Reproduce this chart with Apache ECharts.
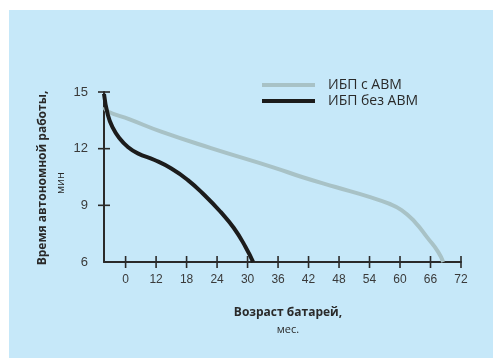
<!DOCTYPE html>
<html><head><meta charset="utf-8">
<script src="https://cdn.jsdelivr.net/npm/echarts@6/dist/echarts.min.js"></script>
<style>html,body{margin:0;padding:0;background:#fff}#c{width:493px;height:358px}</style>
</head><body><div id="c"></div>
<script>
// x positions on the axis scale (label "0" sits at position 6)
const xTickValues = [6, 12, 18, 24, 30, 36, 42, 48, 54, 60, 66, 72];
const xTickLabels = ['0', '12', '18', '24', '30', '36', '42', '48', '54', '60', '66', '72'];
const yTickValues = [9, 12, 15];
const seriesNames = ['ИБП с АВМ', 'ИБП без АВМ'];
const withAVM = [[1.75,14.2],[2.5,13.97],[6.8,13.55],[13,12.9],[22.8,12.03],[35.2,11.0],[40.7,10.5],[47.3,9.97],[53.8,9.46],[57.7,9.1],[60.3,8.75],[62.9,8.13],[65.5,7.25],[67.5,6.54],[68.5,6.0]];
const withoutAVM = [[1.75,14.9],[2.5,13.8],[3.5,13.1],[4.8,12.55],[6.4,12.1],[8.4,11.75],[11.7,11.4],[15,10.95],[18.2,10.35],[21.5,9.55],[24.7,8.65],[27.3,7.8],[29.6,6.8],[31.1,6.0]];

const axisColor = '#2a2a2a';
const xMin = 1.75, xMax = 72, yMin = 6, yMax = 15;
const chart = echarts.init(document.getElementById('c'));
function crossTicks(data, horizontal) {
  return {
    type: 'custom', silent: true, clip: false, z: 5, legendHoverLink: false,
    data: data,
    renderItem: function (params, api) {
      const p = api.coord([api.value(0), api.value(1)]);
      const shape = horizontal
        ? { x1: p[0] - 6, y1: p[1], x2: p[0] + 6, y2: p[1] }
        : { x1: p[0], y1: p[1] - 6, x2: p[0], y2: p[1] + 6 };
      return { type: 'line', shape: shape, style: { stroke: axisColor, lineWidth: 1.6 } };
    }
  };
}
chart.setOption({
  animation: false,
  graphic: [
    { type: 'rect', z: -10, shape: { x: 9, y: 10, width: 484, height: 348 }, style: { fill: '#c6e8f9' } },
    { type: 'text', x: 37, y: 178, rotation: Math.PI / 2, style: { text: 'Время автономной работы,', font: 'bold 12px "Open Sans"', fill: '#2a2a2a', align: 'center', verticalAlign: 'top' } },
    { type: 'text', x: 55, y: 183, rotation: Math.PI / 2, style: { text: 'мин', font: '11px "Open Sans"', fill: '#2a2a2a', align: 'center', verticalAlign: 'top' } },
    { type: 'text', x: 288, y: 313, style: { text: 'Возраст батарей,', font: 'bold 12px "Open Sans"', fill: '#2a2a2a', align: 'center', verticalAlign: 'middle' } },
    { type: 'text', x: 288, y: 330, style: { text: 'мес.', font: '11px "Open Sans"', fill: '#2a2a2a', align: 'center', verticalAlign: 'middle' } }
  ],
  grid: { left: 104, right: 32, top: 92, bottom: 96 },
  legend: {
    orient: 'vertical', left: 257, top: 73, itemWidth: 53, itemHeight: 4, itemGap: 2, icon: 'rect',
    textStyle: { fontFamily: 'Open Sans', fontSize: 14, color: '#2a2a2a', padding: [0, 0, 0, 8] },
    data: seriesNames
  },
  xAxis: {
    type: 'value', min: xMin, max: xMax,
    axisLine: { show: true, onZero: false, lineStyle: { color: axisColor, width: 2 } },
    axisTick: { show: false },
    axisLabel: { show: true, customValues: xTickValues, margin: 12, color: '#3a3a3a', fontSize: 12, fontFamily: 'Liberation Sans',
      formatter: v => xTickLabels[xTickValues.indexOf(v)] },
    splitLine: { show: false }
  },
  yAxis: {
    type: 'value', min: yMin, max: yMax, interval: 3,
    axisLine: { show: true, onZero: false, lineStyle: { color: axisColor, width: 2 } },
    axisTick: { show: false },
    axisLabel: { show: true, margin: 16, color: '#3a3a3a', fontSize: 13, fontFamily: 'Liberation Sans' },
    splitLine: { show: false }
  },
  series: [
    { name: seriesNames[0], type: 'line', data: withAVM, smooth: true, showSymbol: false, lineStyle: { color: '#a8c2c6', width: 4 }, itemStyle: { color: '#a8c2c6' } },
    { name: seriesNames[1], type: 'line', data: withoutAVM, smooth: true, showSymbol: false, lineStyle: { color: '#1c1c1c', width: 4 }, itemStyle: { color: '#1c1c1c' } },
    crossTicks(xTickValues.map(v => [v, yMin]), false),
    crossTicks(yTickValues.map(v => [xMin, v]), true)
  ]
});
</script></body></html>
